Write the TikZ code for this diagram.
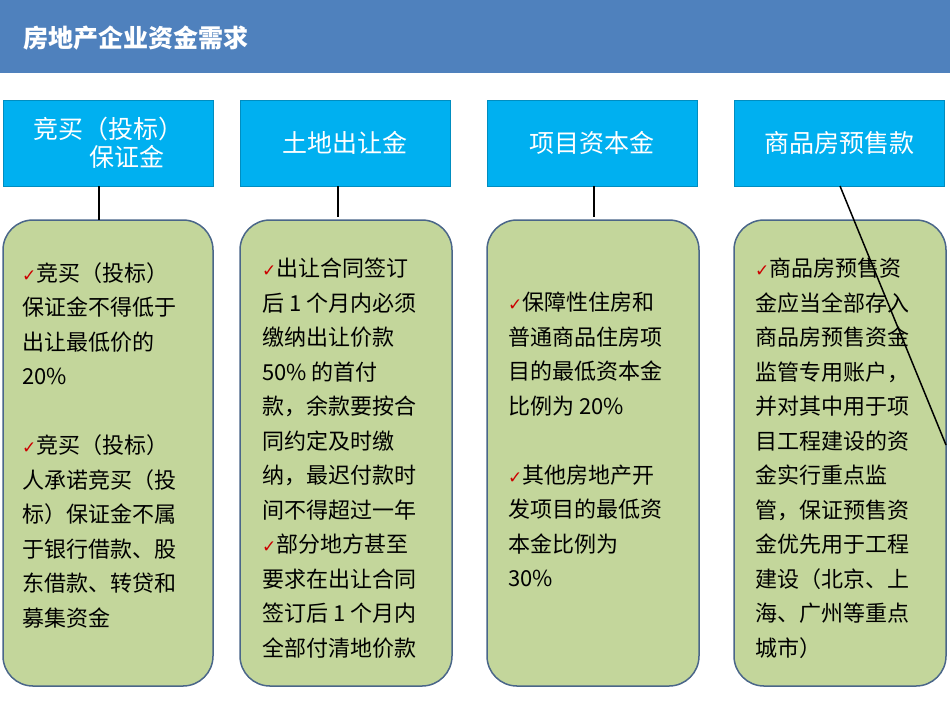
\documentclass[tikz,border=0pt]{standalone}
\usepackage{fontspec}
\setmainfont{Noto Sans CJK SC}
\newfontfamily\dvs{DejaVu Sans}
\definecolor{hdr}{HTML}{4F81BD}
\definecolor{cyanbox}{HTML}{00B0F0}
\definecolor{greenbox}{HTML}{C3D69B}
\definecolor{edge}{HTML}{4A6689}
\newcommand{\ck}{{\dvs\color{red!80!black}\fontsize{17}{20}\selectfont ✓}}
\begin{document}
\begin{tikzpicture}[x=1pt,y=-1pt,
  topbox/.style={fill=cyanbox,draw=cyanbox!80!black,line width=0.5pt,text=white,font=\fontsize{25}{28}\selectfont,align=center},
  greenbox/.style={fill=greenbox,draw=edge,line width=1.5pt,rounded corners=30pt},
  body/.style={anchor=north west,align=left,inner sep=0pt,font=\fontsize{22}{34.5}\selectfont},
  conn/.style={line width=2pt,black}]
\useasboundingbox (0,0) rectangle (950,713);
\fill[hdr] (0,0) rectangle (950,73);
\node[anchor=west,text=white,font=\bfseries\fontsize{25}{28}\selectfont] (title) at (20,38) {房地产企业资金需求};
% top boxes
\path[topbox] (3,100) rectangle (213,186); \node[topbox,draw=none,fill=none] (t1) at (108,143) {竞买（投标）\\\hspace*{1.5em}保证金};
\path[topbox] (240,100) rectangle (450,186); \node[topbox,draw=none,fill=none] (t2) at (345,143) {土地出让金};
\path[topbox] (487,100) rectangle (697,186); \node[topbox,draw=none,fill=none] (t3) at (592,143) {项目资本金};
\path[topbox] (734,100) rectangle (944,186); \node[topbox,draw=none,fill=none] (t4) at (839,143) {商品房预售款};
% green boxes
\draw[greenbox] (3,220) rectangle (213,686);
\draw[greenbox] (240,220) rectangle (452,686);
\draw[greenbox] (487,220) rectangle (699,686);
\draw[greenbox] (734,220) rectangle (946,686);
\coordinate (a1) at (99,186); \coordinate (b1) at (99,220);
\coordinate (a2) at (338,186); \coordinate (b2) at (338,217);
\coordinate (a3) at (594,186); \coordinate (b3) at (594,217);
\coordinate (a4) at (840,186); \coordinate (b4) at (946,445);
\draw[conn] (a1)--(b1); \draw[conn] (a2)--(b2); \draw[conn] (a3)--(b3);
% texts
\node[body] (g1) at (22,262) {\ck 竞买（投标）\\保证金不得低于\\出让最低价的\\20\%\\[34.5pt]\ck 竞买（投标）\\人承诺竞买（投\\标）保证金不属\\于银行借款、股\\东借款、转贷和\\募集资金};
\node[body] (g2) at (262,258) {\ck 出让合同签订\\后 1 个月内必须\\缴纳出让价款\\50\% 的首付\\款，余款要按合\\同约定及时缴\\纳，最迟付款时\\间不得超过一年\\\ck 部分地方甚至\\要求在出让合同\\签订后 1 个月内\\全部付清地价款};
\node[body] (g3) at (508,292) {\ck 保障性住房和\\普通商品住房项\\目的最低资本金\\比例为 20\%\\[34.5pt]\ck 其他房地产开\\发项目的最低资\\本金比例为\\30\%};
\node[body] (g4) at (755,258) {\ck 商品房预售资\\金应当全部存入\\商品房预售资金\\监管专用账户，\\并对其中用于项\\目工程建设的资\\金实行重点监\\管，保证预售资\\金优先用于工程\\建设（北京、上\\海、广州等重点\\城市）};
\draw[line width=1.5pt] (a4)--(b4);
\end{tikzpicture}
\end{document}
